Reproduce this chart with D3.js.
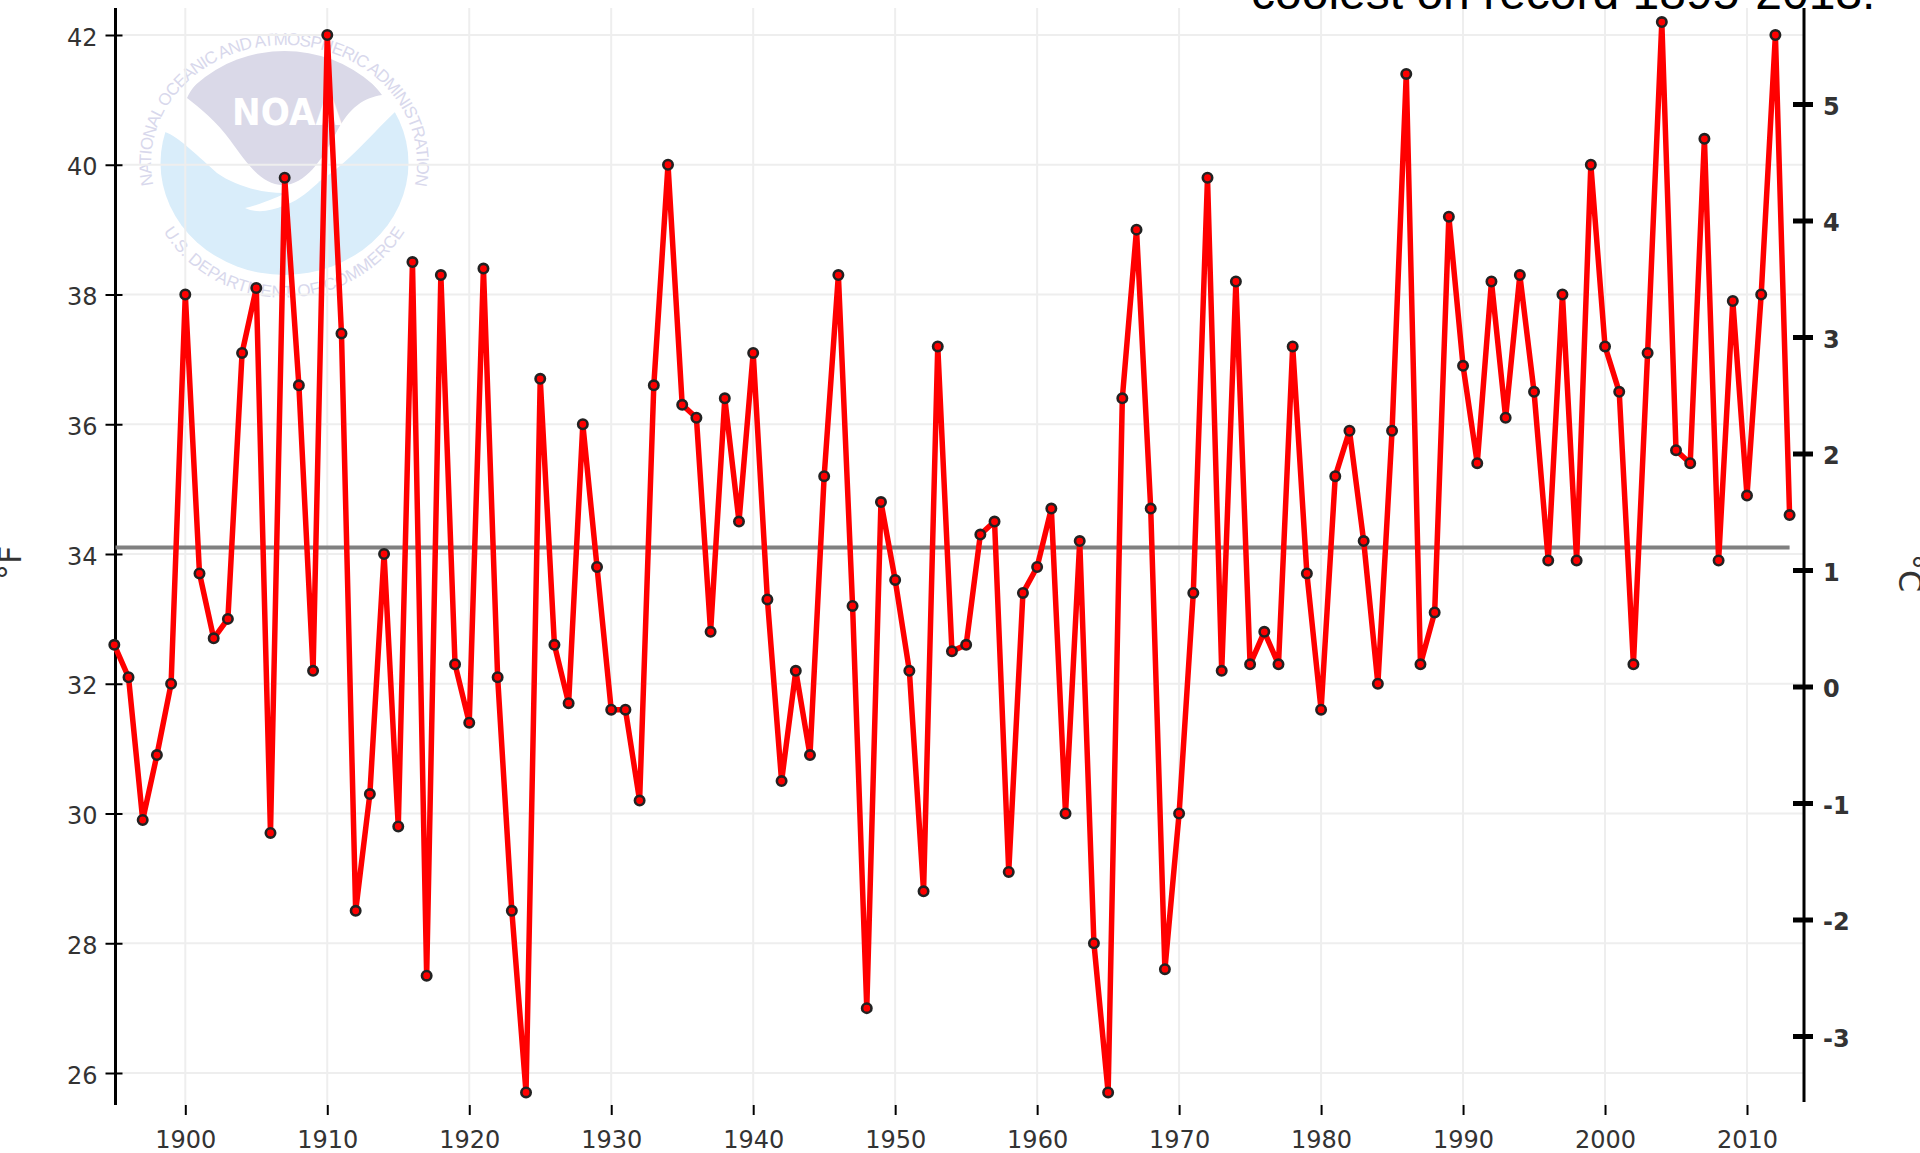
<!DOCTYPE html>
<html>
<head>
<meta charset="utf-8">
<script src="https://cdn.jsdelivr.net/npm/d3@7"></script>
<style>
html,body{margin:0;padding:0;background:#fff;overflow:hidden;}
text{font-family:"DejaVu Sans",sans-serif;fill:#333;}
</style>
</head>
<body>
<div id="chart"></div>
<script>
var years = d3.range(1895, 2014);
var tempF = [32.6,32.1,29.9,30.9,32.0,38.0,33.7,32.7,33.0,37.1,38.1,29.7,39.8,36.6,32.2,
	42.0,37.4,28.5,30.3,34.0,29.8,38.5,27.5,38.3,32.3,31.4,38.4,32.1,28.5,25.7,
	36.7,32.6,31.7,36.0,33.8,31.6,31.6,30.2,36.6,40.0,36.3,36.1,32.8,36.4,34.5,
	37.1,33.3,30.5,32.2,30.9,35.2,38.3,33.2,27.0,34.8,33.6,32.2,28.8,37.2,32.5,
	32.6,34.3,34.5,29.1,33.4,33.8,34.7,30.0,34.2,28.0,25.7,36.4,39.0,34.7,27.6,
	30.0,33.4,39.8,32.2,38.2,32.3,32.8,32.3,37.2,33.7,31.6,35.2,35.9,34.2,32.0,
	35.9,41.4,32.3,33.1,39.2,36.9,35.4,38.2,36.1,38.3,36.5,33.9,38.0,33.9,40.0,
	37.2,36.5,32.3,37.1,42.2,35.6,35.4,40.4,33.9,37.9,34.9,38.0,42.0,34.6];
var meanF = 34.1;
var fTicks = [26,28,30,32,34,36,38,40,42];
var cTicks = [-3,-2,-1,0,1,2,3,4,5];
var yearTicks = d3.range(1900, 2020, 10);
var caption = "coolest on record 1895-2013.";

var w = 1920, h = 1153;
// plotTop, since a global called top clashes with window.top
var plotLeft = 115.5, plotRight = 1804, plotTop = 8, plotBottom = 1105;

var svg = d3.select("#chart").append("svg").attr("width", w).attr("height", h);

var xScale = d3.scaleLinear().domain([1900, 2010]).range([185.3, 1747]);
var yScale = d3.scaleLinear().domain([26, 42]).range([1073, 35]);
var cScale = d3.scaleLinear().domain([-3, 5]).range([1036, 104]);

// watermark, sits under the grid
function drawLogo(){
	var g = svg.append("g");
	var defs = svg.append("defs");
	defs.append("clipPath").attr("id", "logoClip").append("ellipse")
		.attr("cx", 284.5).attr("cy", 163).attr("rx", 124).attr("ry", 112);
	var disc = g.append("g").attr("clip-path", "url(#logoClip)");
	// blue lower part
	disc.append("path").attr("fill", "#d9edfa")
		.attr("d", "M150,126 L165,132 C178,136 200,158 217,173 C235,186 262,193 283,193 C300,193 320,185 350,157 C368,140 382,124 395,112 L420,90 L420,285 L150,285Z");
	// purple upper part
	disc.append("path").attr("fill", "#dad9e8")
		.attr("d", "M187,98 C200,70 240,45 283,45 C325,45 365,70 382,95 C365,98 350,105 335,135 C322,160 305,185 283,185 C262,185 248,165 230,140 C217,122 200,108 187,98Z");
	// tail of the bird
	g.append("path").attr("fill", "#fff")
		.attr("d", "M245,208 C262,205 283,193 320,181 C310,190 300,200 285,205 C270,212 255,213 245,208Z");
	g.append("text").attr("x", 232).attr("y", 125)
		.style("font-family", "'DejaVu Sans'").style("font-weight", "bold").style("font-size", "38px")
		.style("fill", "#fff").attr("textLength", 110).attr("lengthAdjust", "spacingAndGlyphs").text("NOAA");
	defs.append("path").attr("id", "logoTop").attr("d", "M160.6,207 A133,118 0 1 1 407.4,207");
	defs.append("path").attr("id", "logoBot").attr("d", "M157,220 A140,134 0 0 0 411,220");
	g.append("text").style("font-family", "'Liberation Sans'").style("font-size", "17px").style("letter-spacing", "-0.9px").style("fill", "#d8d8ec")
		.append("textPath").attr("href", "#logoTop").attr("startOffset", "50%").attr("text-anchor", "middle")
		.text("NATIONAL OCEANIC AND ATMOSPHERIC ADMINISTRATION");
	g.append("text").style("font-family", "'Liberation Sans'").style("font-size", "17px").style("fill", "#d8d8ec")
		.append("textPath").attr("href", "#logoBot").attr("startOffset", "50%").attr("text-anchor", "middle")
		.text("U.S. DEPARTMENT OF COMMERCE");
}
drawLogo();

// grid
svg.append("g").selectAll("line").data(fTicks).enter().append("line")
	.attr("x1", plotLeft).attr("x2", plotRight)
	.attr("y1", yScale).attr("y2", yScale)
	.attr("stroke", "#eee").attr("stroke-width", 2);
svg.append("g").selectAll("line").data(yearTicks).enter().append("line")
	.attr("x1", xScale).attr("x2", xScale)
	.attr("y1", plotTop).attr("y2", plotBottom)
	.attr("stroke", "#eee").attr("stroke-width", 2);

// left axis
var leftAxis = svg.append("g").attr("class", "axis")
	.attr("transform", "translate(" + plotLeft + ",0)")
	.call(d3.axisLeft(yScale).tickValues(fTicks).tickSize(10).tickPadding(8).tickSizeOuter(0));
leftAxis.select(".domain").remove();
leftAxis.append("line").attr("y1", plotTop).attr("y2", plotBottom).attr("stroke", "#000").attr("stroke-width", 3);
leftAxis.selectAll(".tick line").attr("x2", -10).attr("x1", 7).attr("stroke", "#000").attr("stroke-width", 2);
leftAxis.selectAll(".tick text").style("font-size", "24px").style("font-family", "'DejaVu Sans'").attr("fill", "#333").attr("dy", "0.42em");

// bottom axis, ticks sit below the end of the y axes
var bottomAxis = svg.append("g").attr("class", "axis")
	.attr("transform", "translate(0," + plotBottom + ")")
	.call(d3.axisBottom(xScale).tickValues(yearTicks).tickFormat(d3.format("d")).tickSize(10).tickPadding(16));
bottomAxis.select(".domain").remove();
bottomAxis.selectAll(".tick line").attr("stroke", "#000").attr("stroke-width", 2);
bottomAxis.selectAll(".tick text").style("font-size", "24px").style("font-family", "'DejaVu Sans'").attr("fill", "#333");

// right axis
var rightAxis = svg.append("g").attr("class", "axis")
	.attr("transform", "translate(" + plotRight + ",0)")
	.call(d3.axisRight(cScale).tickValues(cTicks).tickFormat(function(d){ return d < 0 ? "-" + Math.abs(d) : d; }).tickPadding(13));
rightAxis.select(".domain").remove();
rightAxis.append("line").attr("y1", plotTop).attr("y2", 1102).attr("stroke", "#000").attr("stroke-width", 3);
rightAxis.selectAll(".tick line").attr("x1", -11).attr("x2", 9).attr("stroke", "#000").attr("stroke-width", 5);
rightAxis.selectAll(".tick text").style("font-size", "24px").style("font-weight", "bold").style("font-family", "'DejaVu Sans'").attr("fill", "#222").attr("dy", "0.42em");

// series
var tempLine = d3.line()
	.x(function(d, i){ return xScale(years[i]); })
	.y(function(d){ return yScale(d); });

svg.append("line")
	.attr("x1", plotLeft).attr("x2", xScale(2013))
	.attr("y1", yScale(meanF)).attr("y2", yScale(meanF))
	.attr("stroke", "#808080").attr("stroke-width", 4);

svg.append("path").datum(tempF)
	.attr("d", tempLine).attr("fill", "none")
	.attr("stroke", "#f00").attr("stroke-width", 5.5).attr("stroke-linejoin", "round");

svg.append("g").selectAll("circle").data(tempF).enter().append("circle")
	.attr("cx", function(d, i){ return xScale(years[i]); })
	.attr("cy", function(d){ return yScale(d); })
	.attr("r", 4.7)
	.attr("fill", "#f00").attr("stroke", "#222").attr("stroke-width", 2.6);

// axis titles, both run off the page edge in the reference
svg.append("text").attr("transform", "translate(21,580) rotate(-90)")
	.style("font-size", "32px").text("°F");
svg.append("text").attr("transform", "translate(1899,554) rotate(90)")
	.style("font-size", "32px").text("°C");

// leftover caption line cut by the top edge
svg.append("text").attr("x", 1251).attr("y", 9)
	.style("font-family", "'Liberation Sans'").style("font-size", "48px").style("fill", "#000")
	.text(caption);
</script>
</body>
</html>
